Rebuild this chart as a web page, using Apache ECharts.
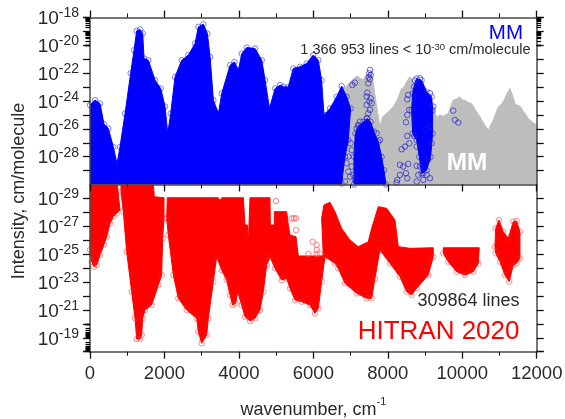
<!DOCTYPE html>
<html><head><meta charset="utf-8">
<script src="https://cdn.jsdelivr.net/npm/echarts@6/dist/echarts.min.js"></script>
<style>html,body{margin:0;padding:0;background:#fff}#c{width:565px;height:419px;filter:blur(0.45px)}</style>
</head><body><div id="c"></div>
<script>
// All intensities are stored as log10 exponents: [wavenumber, exponent]
const xTicks = [0,2000,4000,6000,8000,10000,12000];
const greyEnvelope = [[6760,-23.5],[6849,-23.03],[7001,-22.62],[7091,-22.38],[7181,-22.2],[7270,-22.4],[7342,-22.46],[7400,-22.2],[7450,-22.14],[7539,-21.9],[7611,-22.74],[7700,-24.42],[7789,-25.86],[7861,-25.14],[8013,-24.78],[8147,-24.42],[8260,-23.9],[8371,-23.1],[8440,-23.0],[8505,-22.62],[8595,-22.26],[8703,-22.62],[8953,-22.86],[9177,-23.94],[9311,-25.19],[9400,-25.0],[9490,-25.09],[9625,-24.9],[9700,-24.3],[9759,-23.94],[9850,-23.85],[9938,-23.7],[10010,-23.95],[10073,-23.94],[10160,-24.1],[10252,-24.18],[10370,-24.7],[10475,-25.14],[10600,-25.7],[10699,-26.1],[10770,-25.7],[10833,-25.38],[10968,-24.42],[11030,-24.3],[11102,-24.06],[11200,-23.5],[11281,-23.1],[11350,-23.6],[11415,-24.18],[11480,-24.3],[11550,-24.37],[11660,-24.8],[11773,-25.26],[11880,-25.5],[12000,-25.74]];
const greyBottom = [[12000,-30],[6760,-30]];
const blueMainEdge = [[0,-24.3],[134,-23.94],[269,-24.18],[376,-25.66],[493,-25.98],[627,-27.3],[726,-28.5],[806,-27.3],[941,-24.9],[1093,-22.0],[1183,-20.35],[1254,-18.96],[1344,-18.86],[1416,-19.15],[1452,-20.95],[1568,-21.07],[1747,-22.5],[1900,-23.1],[2016,-24.4],[2088,-26.33],[2168,-24.9],[2285,-22.26],[2464,-21.07],[2643,-20.7],[2822,-19.87],[2912,-18.67],[3046,-18.48],[3154,-19.15],[3226,-20.83],[3315,-23.94],[3450,-24.9],[3539,-23.46],[3763,-21.43],[3880,-21.19],[3987,-21.78],[4077,-20.6],[4211,-20.16],[4435,-20.23],[4614,-21.07],[4704,-22.5],[4820,-24.54],[4973,-23.1],[5107,-22.86],[5193,-22.98],[5327,-23.0],[5460,-21.66],[5640,-21.54],[5820,-21.3],[5998,-20.7],[6133,-21.07],[6222,-22.5],[6285,-25.0],[6447,-24.54],[6626,-23.7],[6760,-22.93],[6894,-23.7],[7001,-24.54],[6939,-26.81],[6849,-28.01],[6760,-29.93]];
const blueMainBottom = [[6760,-30],[0,-30]];
const blueSecondEdge = [[7091,-30],[7091,-28.0],[7127,-26.33],[7207,-25.81],[7342,-25.5],[7450,-25.26],[7539,-25.5],[7628,-26.2],[7745,-26.93],[7834,-28.01],[7897,-28.97],[7951,-30]];
const blueThirdEdge = [[8703,-22.98],[8774,-22.38],[8908,-22.5],[9042,-23.34],[9177,-23.7],[9204,-24.66],[9204,-26.34],[9150,-28.01],[9042,-28.97],[8908,-29.21],[8846,-28.01],[8774,-26.81],[8667,-26.33],[8640,-24.66],[8667,-23.46]];
const blueStrayLines = [[7521,-21.77],[7503,-22.01],[7539,-22.13],[7485,-22.3],[7521,-22.44],[7476,-22.73],[7046,-22.85],[7118,-22.68],[7450,-23.4],[7431,-23.68],[7539,-23.8],[7503,-24.04],[7566,-24.16],[7431,-24.28],[7521,-24.64],[7476,-24.88],[7431,-25.24],[7252,-25.48],[7208,-25.72],[7163,-25.96],[7700,-26.32],[7789,-26.8],[7001,-27.04],[7028,-27.52],[6939,-27.99],[6894,-28.47],[7028,-28.71],[6939,-29.07],[7073,-29.31],[6849,-29.79],[6984,-29.43],[7118,-29.67],[8550,-23.56],[8523,-23.88],[8577,-24.64],[8523,-25.0],[8488,-25.53],[8523,-26.51],[8577,-27.04],[8461,-27.28],[8371,-27.47],[8326,-28.59],[8550,-28.52],[8416,-28.71],[8488,-29.19],[8326,-29.31],[8523,-29.55],[8255,-29.67],[8237,-29.86],[8774,-28.66],[8774,-29.79],[9042,-29.31],[9132,-29.55],[8953,-29.67],[9759,-24.69],[9804,-25.36],[9893,-25.55],[8864,-28.71],[9088,-28.23],[9177,-27.04],[9132,-25.84],[9222,-24.4],[8774,-27.28],[8711,-26.51],[8819,-29.31],[8953,-29.19],[8864,-22.37],[8730,-22.53],[9132,-23.44]];
const redFirstUpper = [[0,-30],[734,-30],[761,-29.24],[806,-28.17]];
const redFirstLower = [[716,-27.93],[627,-27.69],[537,-27.21],[448,-26.25],[376,-25.7],[269,-24.94],[179,-24.22],[107,-24.1],[45,-24.46],[0,-25.3]];
const redSecondUpper = [[833,-30],[1701,-30],[1728,-29.12],[1988,-29.05]];
const redSecondLower = [[1988,-27.57],[1952,-26.13],[1925,-23.5],[1836,-22.79],[1656,-21.35],[1477,-20.99],[1415,-20.4],[1388,-19.2],[1343,-18.91],[1254,-18.91],[1209,-20.4],[1119,-22.31],[985,-25.18],[895,-28.05],[833,-29.48]];
const redBlobUpper = [[2077,-29.05],[3447,-29.05],[3492,-28.81],[3537,-29.05],[4119,-29.05],[4164,-27.09],[4226,-27.09],[4253,-25.78],[4298,-29.05],[4835,-29.05],[4844,-27.09],[4952,-27.09],[4952,-28.05],[5283,-28.05],[5328,-27.09],[5372,-26.37],[5534,-26.25],[5596,-24.87],[6267,-24.87],[6223,-27.57],[6285,-28.53],[6446,-28.72],[6581,-28.05],[6760,-26.85],[6984,-26.01],[7207,-25.54],[7476,-25.89],[7566,-26.85],[7745,-28.41],[7969,-28.29],[8192,-27.45],[8282,-25.54],[8595,-25.42],[9222,-25.46]];
const redBlobLower = [[9222,-24.82],[9087,-23.5],[8774,-22.55],[8640,-22.07],[8506,-22.31],[8327,-23.38],[8058,-24.34],[7789,-25.3],[7655,-23.26],[7566,-21.83],[7431,-21.83],[7163,-22.19],[6849,-22.91],[6670,-23.98],[6581,-24.34],[6312,-24.82],[6223,-23.03],[6133,-21.11],[6044,-20.75],[5909,-21.35],[5685,-21.59],[5507,-21.71],[5372,-22.55],[5283,-23.26],[5148,-23.14],[4970,-23.98],[4835,-24.82],[4746,-24.22],[4656,-22.31],[4567,-20.99],[4432,-20.4],[4298,-20.2],[4164,-20.51],[4074,-21.35],[3967,-22.31],[3913,-21.47],[3832,-21.35],[3761,-22.07],[3671,-23.15],[3537,-23.86],[3403,-24.82],[3313,-23.03],[3179,-20.4],[3134,-19.2],[3000,-18.6],[2910,-19.44],[2865,-20.4],[2597,-20.99],[2373,-21.83],[2239,-23.5],[2104,-26.37],[2059,-27.57]];
const redThirdEdge = [[9490,-25.46],[10457,-25.46],[10430,-24.34],[10296,-23.74],[10073,-23.5],[9849,-23.74],[9624,-24.46],[9490,-25.06]];
const redFourthEdge = [[10878,-25.54],[10897,-26.85],[10986,-27.45],[11102,-26.61],[11236,-26.13],[11370,-27.33],[11460,-27.38],[11550,-26.61],[11550,-24.7],[11460,-24.34],[11370,-24.22],[11263,-23.03],[11147,-23.5],[11013,-24.46],[10897,-25.06]];
const redStrayLines = [[4996,-28.81],[5417,-27.57],[5480,-27.57],[5534,-27.57],[5534,-26.73],[5981,-25.89],[6089,-25.66],[5865,-25.01],[6089,-25.3],[6089,-25.01],[6170,-25.06]];

const blueShapes = [blueMainEdge.concat(blueMainBottom), blueSecondEdge, blueThirdEdge];
const redShapes = [redFirstUpper.concat(redFirstLower), redSecondUpper.concat(redSecondLower), redBlobUpper.concat(redBlobLower), redThirdEdge, redFourthEdge];
const pow = p => [p[0], Math.pow(10, p[1])];
const FONT = '"Liberation Sans", Arial, sans-serif';
const TXT = '#2a2a2a';
const AX = '#4a4a4a';

function yLabel(show) {
  return v => {
    if (!isFinite(v)) return '';
    const e = v <= 0 ? -30 : Math.round(Math.log10(v));
    if (e > -18) return '';
    return show(e) ? '{b|10}{s|' + e + '}' : '';
  };
}
const labelRich = {
  b:{fontSize:19,color:TXT,fontFamily:FONT,lineHeight:22,verticalAlign:'bottom'},
  s:{fontSize:14,color:TXT,fontFamily:FONT,verticalAlign:'top',lineHeight:20,padding:[0,0,8,0]}
};
function yAxisBase(grid, inverse, pos, show, labelFn, minor) {
  return {
    type:'log', logBase:10, min:1e-30, max:1e-18, interval:1, gridIndex:grid, inverse, position:pos, z:6,
    axisLine:{show:true,onZero:false,lineStyle:{color:AX,width:1.5}},
    axisTick:{show:true,inside:false,length:7,lineStyle:{color:'#111',width:1.3}},
    minorTick:{show:minor,splitNumber:9,length:4.5,lineStyle:{color:'#000',width:1.2}},
    splitLine:{show:false},minorSplitLine:{show:false},
    axisLabel:{show,formatter:labelFn,margin:11,rich:labelRich,showMinLabel:true,showMaxLabel:true,hideOverlap:false,interval:0}
  };
}
function xAxisBase(grid, pos, show, ticks, extra) {
  return Object.assign({
    type:'value', min:xTicks[0], max:xTicks[xTicks.length-1], interval:xTicks[1]-xTicks[0], gridIndex:grid, position:pos, z:6,
    axisLine:{show:true,onZero:false,lineStyle:{color:AX,width:1.5}},
    axisTick:{show:ticks,inside:false,length:7,lineStyle:{color:'#111',width:1.3}},
    minorTick:{show:ticks,splitNumber:2,length:4,lineStyle:{color:'#111',width:1}},
    splitLine:{show:false},
    axisLabel:{show,margin:13,formatter:v=>String(v),fontSize:18.5,color:TXT,fontFamily:FONT,showMinLabel:true,showMaxLabel:true,hideOverlap:false}
  }, extra||{});
}
function polySeries(name, shapes, fill, xi, yi, z) {
  return {
    type:'custom', name, xAxisIndex:xi, yAxisIndex:yi, clip:true, z, silent:true,
    encode:{x:0,y:1},
    data:shapes.map((s,i)=>[s[0][0],Math.pow(10,s[0][1]),i]),
    renderItem:(params,api)=>{
      const s = shapes[api.value(2)];
      return {type:'polygon',shape:{points:s.map(p=>api.coord(pow(p)))},style:{fill,stroke:fill,lineWidth:1}};
    }
  };
}
function circles(pts, color, xi, yi, z, op) {
  return {
    type:'scatter', xAxisIndex:xi, yAxisIndex:yi, symbol:'circle', symbolSize:5.5, clip:true, z, silent:true,
    itemStyle:{color:'rgba(0,0,0,0)',borderColor:color,borderWidth:1,opacity:op},
    data:pts.map(pow)
  };
}

const chart = echarts.init(document.getElementById('c'), null, {renderer:'canvas'});
chart.setOption({
  animation:false,
  backgroundColor:'#fff',
  grid:[
    {left:90,top:17.5,width:446.7,height:167,outerBoundsMode:'none'},
    {left:90,top:184.5,width:446.7,height:167.2,outerBoundsMode:'none'}
  ],
  xAxis:[
    xAxisBase(0,'bottom',false,true),
    xAxisBase(0,'top',false,true),
    xAxisBase(1,'bottom',true,true,{
      name:'{t|wavenumber, cm}{u|-1}',nameLocation:'middle',nameGap:45,
      nameTextStyle:{rich:{t:{fontSize:18,color:TXT,fontFamily:FONT,lineHeight:22,verticalAlign:'bottom'},u:{fontSize:11,color:TXT,fontFamily:FONT,verticalAlign:'top',lineHeight:12,padding:[0,0,10,0]}}}
    })
  ],
  yAxis:[
    yAxisBase(0,false,'left',true,yLabel(e=>e%2===0),true),
    yAxisBase(0,false,'right',false,null,true),
    yAxisBase(1,true,'left',true,yLabel(e=>e%2!==0),true),
    yAxisBase(1,true,'right',false,null,false)
  ],
  series:[
    polySeries('MM full',[greyEnvelope.concat(greyBottom)],'#bdbdbd',0,0,2),
    polySeries('MM',blueShapes,'#0000ff',0,0,3),
    circles(blueMainEdge.concat(blueSecondEdge,blueThirdEdge),'#0000ee',0,0,4,0.5),
    circles(blueStrayLines,'#2222cc',0,0,4,0.7),
    polySeries('HITRAN',redShapes,'#ff0000',2,2,3),
    circles(redFirstLower.concat(redSecondLower,redBlobLower,redThirdEdge.slice(2),redFourthEdge),'#ff2020',2,2,4,0.5),
    circles(redStrayLines,'#ff5050',2,2,4,0.7)
  ],
  graphic:[
    {type:'text',z:10,x:19.5,y:191,rotation:Math.PI/2,style:{text:'Intensity, cm/molecule',font:'18px '+FONT,fill:TXT,align:'center',verticalAlign:'middle'}},
    {type:'text',z:10,x:523,y:33.5,style:{text:'MM',font:'20.5px '+FONT,fill:'#0000ff',align:'right',verticalAlign:'middle'}},
    {type:'text',z:10,x:467,y:163,style:{text:'MM',font:'bold 24.4px '+FONT,fill:'#fff',align:'center',verticalAlign:'middle'}},
    {type:'text',z:10,x:530.5,y:50,style:{
      text:'{a|1 366 953 lines < 10}{e|-30}{a| cm/molecule}',align:'right',verticalAlign:'middle',
      rich:{a:{fontSize:14.5,fill:TXT,fontFamily:FONT,lineHeight:16},e:{fontSize:9.5,fill:TXT,fontFamily:FONT,verticalAlign:'top',lineHeight:10}}}},
    {type:'text',z:10,x:519.5,y:301.5,style:{text:'309864 lines',font:'18px '+FONT,fill:TXT,align:'right',verticalAlign:'middle'}},
    {type:'text',z:10,x:519.5,y:332,style:{text:'HITRAN 2020',font:'26px '+FONT,fill:'#ff0000',align:'right',verticalAlign:'middle'}}
  ]
});
</script></body></html>
